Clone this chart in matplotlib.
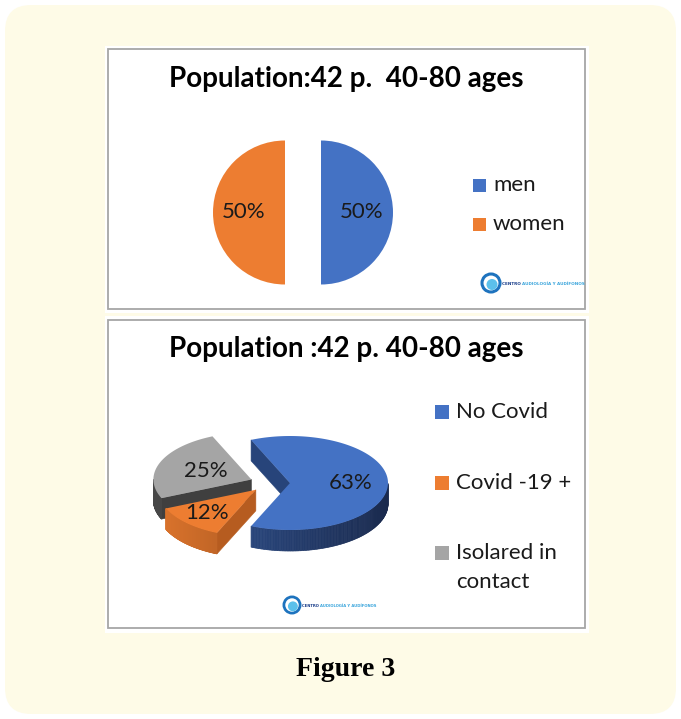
import numpy as np
import matplotlib
matplotlib.use("Agg")
import matplotlib.pyplot as plt
from matplotlib.patches import FancyBboxPatch, Rectangle, Polygon, Circle
import matplotlib.colors as mcolors

# ---------------- data ----------------
title_top = "Population:42 p.  40-80 ages"
sex_labels = ["men", "women"]
sex_values = [50, 50]

title_bottom = "Population :42 p. 40-80 ages"
covid_labels = ["No Covid", "Covid -19 +", "Isolared in\ncontact"]
covid_values = [63, 12, 25]

caption = "Figure 3"
logo_text = ("CENTRO ", "AUDIOLOGÍA Y AUDÍFONOS")

# ---------------- style ----------------
sex_colors = ["#4472C4", "#ED7D31"]
covid_top = ["#4472C4", "#ED7D31", "#A5A5A5"]
covid_wall = [("#30528F", "#1A2A4E"), ("#DC742C", "#84441A"), ("#474747", "#3A3A3A")]
covid_face = ["#27447A", "#B65C20", "#3F3F3F"]
FONT = "Lato"
TXT = "#1a1a1a"

W, H = 681, 719
fig = plt.figure(figsize=(W / 100, H / 100), dpi=100)
fig.patch.set_facecolor("white")
bg = fig.add_axes([0, 0, 1, 1])
bg.set_xlim(0, W)
bg.set_ylim(H, 0)
bg.axis("off")

# background card
bg.add_patch(FancyBboxPatch((5, 5), 671, 709, boxstyle="round,pad=0,rounding_size=26",
                            facecolor="#FEFBE7", edgecolor="none", zorder=0))

# panels
for (y0, y1, by0, by1) in [(46, 313, 49, 309), (316, 633, 320, 628)]:
    bg.add_patch(Rectangle((105, y0), 484, y1 - y0, facecolor="white", edgecolor="none", zorder=1))
    bg.add_patch(Rectangle((108, by0), 477, by1 - by0, facecolor="none",
                           edgecolor="#A6A6A6", linewidth=1.3, zorder=2))

bg.text(346, 79, title_top, ha="center", va="center", fontsize=20, fontweight="bold",
        family=FONT, color="black", zorder=5)
bg.text(346, 349, title_bottom, ha="center", va="center", fontsize=20, fontweight="bold",
        family=FONT, color="black", zorder=5)
bg.text(346, 669, caption, ha="center", va="center", fontsize=20, fontweight="bold",
        family="Liberation Serif", color="black", zorder=5)


def px_axes(x0, y0, x1, y1):
    return fig.add_axes([x0 / W, 1 - y1 / H, (x1 - x0) / W, (y1 - y0) / H])


# ---------------- top pie ----------------
R = 72.0
cxp, cyp = 303, 212.5
ax1 = px_axes(cxp - 100, cyp - 100, cxp + 100, cyp + 100)
wedges, texts, autotexts = ax1.pie(
    sex_values, colors=sex_colors, startangle=90, counterclock=False,
    explode=[0.25] * len(sex_values), autopct="%1.0f%%", pctdistance=0.57,
    wedgeprops=dict(linewidth=0),
    textprops=dict(fontsize=16, family=FONT, color=TXT))
L = 100 / R
ax1.set_xlim(-L, L)
ax1.set_ylim(-L, L)
ax1.axis("off")

for i, (lab, col) in enumerate(zip(sex_labels, sex_colors)):
    yc = 185 + i * 39
    bg.add_patch(Rectangle((473, yc - 6.5), 13, 13, facecolor=col, edgecolor="none", zorder=5))
    bg.text(493, yc, lab, ha="left", va="center", fontsize=16, family=FONT, color=TXT, zorder=5)

# ---------------- bottom 3D pie ----------------
cx, cy = 270, 483
rx, ry, depth, expl = 98.0, 47.0, 21.0, 20.0
total = float(sum(covid_values))
spans = [360.0 * v / total for v in covid_values]
start = spans[0] / 2.0  # first slice centred on the right side, drawn clockwise

slices = []
a_hi = start
for i, sp in enumerate(spans):
    a_lo = a_hi - sp
    mid = np.radians((a_lo + a_hi) / 2)
    ox = expl * np.cos(mid)
    oy = -expl * (ry / rx) * np.sin(mid)
    slices.append(dict(i=i, a1=a_lo, a2=a_hi, mid=mid, ox=ox, oy=oy))
    a_hi = a_lo


def pt(s, t):
    return (cx + s["ox"] + rx * np.cos(t), cy + s["oy"] - ry * np.sin(t))


def mix(c1, c2, f):
    a = np.array(mcolors.to_rgb(c1))
    b = np.array(mcolors.to_rgb(c2))
    return tuple(a + (b - a) * f)


order = sorted(slices, key=lambda s: -np.sin(s["mid"]))
for s in order:
    i = s["i"]
    ccx, ccy = cx + s["ox"], cy + s["oy"]
    # radial faces
    for edge, vis in [(s["a1"], np.cos(np.radians(s["a1"])) > 0),
                      (s["a2"], np.cos(np.radians(s["a2"])) < 0)]:
        if vis:
            ex, ey = pt(s, np.radians(edge))
            bg.add_patch(Polygon([(ccx, ccy), (ex, ey), (ex, ey + depth), (ccx, ccy + depth)],
                                 closed=True, facecolor=covid_face[i], edgecolor=covid_face[i],
                                 linewidth=0.4, zorder=10))
    # outer wall (front half only)
    ts = np.radians(np.linspace(s["a1"], s["a2"], 240))
    for k in range(len(ts) - 1):
        tm = 0.5 * (ts[k] + ts[k + 1])
        if np.sin(tm) < 0:
            x0, y0 = pt(s, ts[k])
            x1, y1 = pt(s, ts[k + 1])
            f = (np.cos(tm) + 1) / 2
            c = mix(covid_wall[i][0], covid_wall[i][1], f)
            bg.add_patch(Polygon([(x0, y0), (x1, y1), (x1, y1 + depth), (x0, y0 + depth)],
                                 closed=True, facecolor=c, edgecolor=c, linewidth=0.5, zorder=11))

label_dist = [0.62, 0.7, 0.5]
for s in slices:
    i = s["i"]
    ts = np.radians(np.linspace(s["a1"], s["a2"], 200))
    pts = [(cx + s["ox"], cy + s["oy"])] + [pt(s, t) for t in ts]
    bg.add_patch(Polygon(pts, closed=True, facecolor=covid_top[i], edgecolor="none", zorder=20))
    lx = cx + s["ox"] + label_dist[i] * rx * np.cos(s["mid"])
    ly = cy + s["oy"] - label_dist[i] * ry * np.sin(s["mid"])
    bg.text(lx, ly, f"{covid_values[i]:.0f}%", ha="center", va="center", fontsize=16,
            family=FONT, color=TXT, zorder=25)

leg_y = [412, 483, 553]
for lab, col, yc in zip(covid_labels, covid_top, leg_y):
    bg.add_patch(Rectangle((435, yc - 7), 14, 14, facecolor=col, edgecolor="none", zorder=5))
    for k, line in enumerate(lab.split("\n")):
        bg.text(456, yc + k * 29, line, ha="left", va="center", fontsize=16,
                family=FONT, color=TXT, zorder=5)

# ---------------- logos ----------------
renderer = fig.canvas.get_renderer()


def logo(x, y, scale):
    bg.add_patch(Circle((x, y), 9 * scale, facecolor="none", edgecolor="#1E73BE",
                        linewidth=2.2 * scale, zorder=6))
    bg.add_patch(Circle((x + 1 * scale, y + 1.5 * scale), 5.5 * scale, facecolor="#5BC0EB",
                        edgecolor="none", zorder=6))
    t1 = bg.text(x + 11 * scale, y + 1, logo_text[0], ha="left", va="center",
                 fontsize=3.0 * scale, fontweight="bold", family="DejaVu Sans",
                 color="#1B3F8B", zorder=6)
    bb = t1.get_window_extent(renderer)
    x2 = bg.transData.inverted().transform((bb.x1, bb.y0))[0]
    bg.text(x2, y + 1, logo_text[1], ha="left", va="center",
            fontsize=3.0 * scale, fontweight="bold", family="DejaVu Sans",
            color="#3AA5DC", zorder=6)


logo(491, 283, 1.0)
logo(292, 605, 0.9)

fig.savefig("out.png", dpi=100, facecolor="white")
